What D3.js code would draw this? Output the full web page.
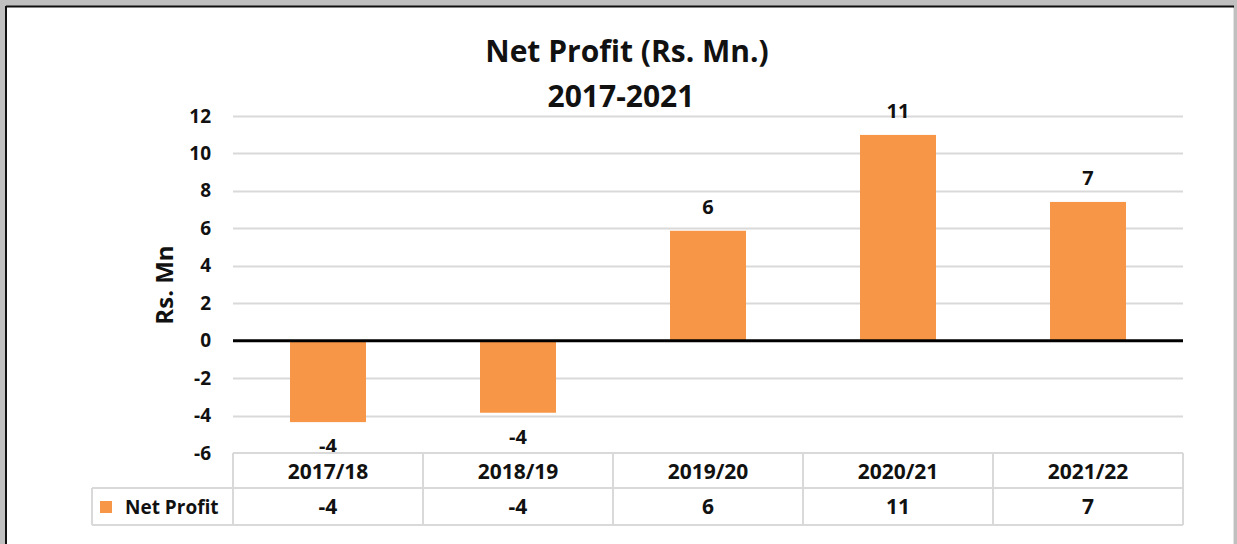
<!DOCTYPE html>
<html>
<head>
<meta charset="utf-8">
<script src="https://cdn.jsdelivr.net/npm/d3@7"></script>
<style>
  body { margin: 0; background: #c0c0c0; }
  svg { display: block; }
  text { font-family: "Open Sans", Lato, sans-serif; font-weight: bold; fill: #111; }
</style>
</head>
<body>
<div id="chart"></div>
<script>
// values
const years = ["2017/18", "2018/19", "2019/20", "2020/21", "2021/22"];
const netProfit = [-4.35, -3.85, 5.87, 10.99, 7.41];
const labels = ["-4", "-4", "6", "11", "7"];
const yTicks = [-6, -4, -2, 0, 2, 4, 6, 8, 10, 12];

const W = 1237, H = 544;
const svg = d3.select("#chart").append("svg")
  .attr("width", W).attr("height", H);

// chart frame
svg.append("rect").attr("x", 7).attr("y", 7).attr("width", 1226).attr("height", 540)
  .attr("fill", "white");
svg.append("line").attr("x1", 6).attr("x2", 1234).attr("y1", 6.5).attr("y2", 6.5)
  .attr("stroke", "#111").attr("stroke-width", 2);
svg.append("line").attr("x1", 6).attr("x2", 6).attr("y1", 6).attr("y2", H)
  .attr("stroke", "#111").attr("stroke-width", 2);
svg.append("line").attr("x1", 1233.5).attr("x2", 1233.5).attr("y1", 8).attr("y2", H)
  .attr("stroke", "#e3e3e3").attr("stroke-width", 1);

const plotLeft = 233, plotRight = 1183, plotTop = 116, plotBottom = 453;

const x = d3.scaleBand().domain(years).range([plotLeft, plotRight]).paddingInner(0.6).paddingOuter(0.3);
const xCell = d3.scaleBand().domain(years).range([plotLeft, plotRight]);
const y = d3.scaleLinear().domain([-6, 12]).range([plotBottom, plotTop]);

// title
svg.append("text").attr("x", 627).attr("y", 62).attr("text-anchor", "middle")
  .style("font-size", "30px").text("Net Profit (Rs. Mn.)");
svg.append("text").attr("x", 621).attr("y", 107).attr("text-anchor", "middle")
  .style("font-size", "30px").text("2017-2021");

// gridlines
svg.append("g").selectAll("line")
  .data(yTicks.filter(d => d !== 0 && d !== -6))
  .join("line")
  .attr("x1", plotLeft).attr("x2", plotRight)
  .attr("y1", d => Math.round(y(d)) + 0.5).attr("y2", d => Math.round(y(d)) + 0.5)
  .attr("stroke", "#d9d9d9").attr("stroke-width", 2);

// y axis labels
const yAxis = svg.append("g").attr("transform", `translate(${plotLeft - 14},0)`)
  .call(d3.axisLeft(y).tickValues(yTicks).tickSize(0).tickPadding(8).tickFormat(d => String(d)));
yAxis.select(".domain").remove();
yAxis.selectAll("text").style("font-size", "19px").attr("font-family", null).attr("fill", "#111");

svg.append("text")
  .attr("transform", `translate(173,285) rotate(-90)`)
  .attr("text-anchor", "middle").style("font-size", "24px").text("Rs. Mn");

// bars
svg.append("g").selectAll("rect")
  .data(netProfit)
  .join("rect")
  .attr("x", (d, i) => x(years[i]))
  .attr("width", x.bandwidth())
  .attr("y", d => y(Math.max(0, d)))
  .attr("height", d => Math.abs(y(d) - y(0)))
  .attr("fill", "#f79646");

// data labels
svg.append("g").selectAll("text")
  .data(netProfit)
  .join("text")
  .attr("x", (d, i) => x(years[i]) + x.bandwidth() / 2)
  .attr("y", d => d >= 0 ? y(d) - 17 : y(d) + 31)
  .attr("text-anchor", "middle").style("font-size", "20px")
  .text((d, i) => labels[i]);

// zero line
svg.append("line").attr("x1", plotLeft).attr("x2", plotRight)
  .attr("y1", y(0)).attr("y2", y(0))
  .attr("stroke", "#000").attr("stroke-width", 3);

// data table
const row1 = plotBottom, row2 = 488, row3 = 525, legLeft = 92;
const grid = svg.append("g").attr("stroke", "#d9d9d9").attr("stroke-width", 2).attr("fill", "none");
grid.append("line").attr("x1", plotLeft).attr("x2", plotRight).attr("y1", row1).attr("y2", row1);
grid.append("line").attr("x1", legLeft).attr("x2", plotRight).attr("y1", row2).attr("y2", row2);
grid.append("line").attr("x1", legLeft).attr("x2", plotRight).attr("y1", row3).attr("y2", row3);
grid.append("line").attr("x1", legLeft).attr("x2", legLeft).attr("y1", row2).attr("y2", row3);
grid.selectAll(".col")
  .data(years.concat(["end"]))
  .join("line")
  .attr("x1", (d, i) => plotLeft + i * xCell.bandwidth())
  .attr("x2", (d, i) => plotLeft + i * xCell.bandwidth())
  .attr("y1", row1).attr("y2", row3);

svg.append("g").selectAll("text")
  .data(years)
  .join("text")
  .attr("x", d => xCell(d) + xCell.bandwidth() / 2)
  .attr("y", row1 + 26)
  .attr("text-anchor", "middle").style("font-size", "21px")
  .text(d => d);

svg.append("g").selectAll("text")
  .data(labels)
  .join("text")
  .attr("x", (d, i) => xCell(years[i]) + xCell.bandwidth() / 2)
  .attr("y", row2 + 26)
  .attr("text-anchor", "middle").style("font-size", "21px")
  .text(d => d);

svg.append("rect").attr("x", 100).attr("y", 501).attr("width", 12).attr("height", 12)
  .attr("fill", "#f79646");
svg.append("text").attr("x", 125).attr("y", row2 + 26).style("font-size", "19px").text("Net Profit");
</script>
</body>
</html>
